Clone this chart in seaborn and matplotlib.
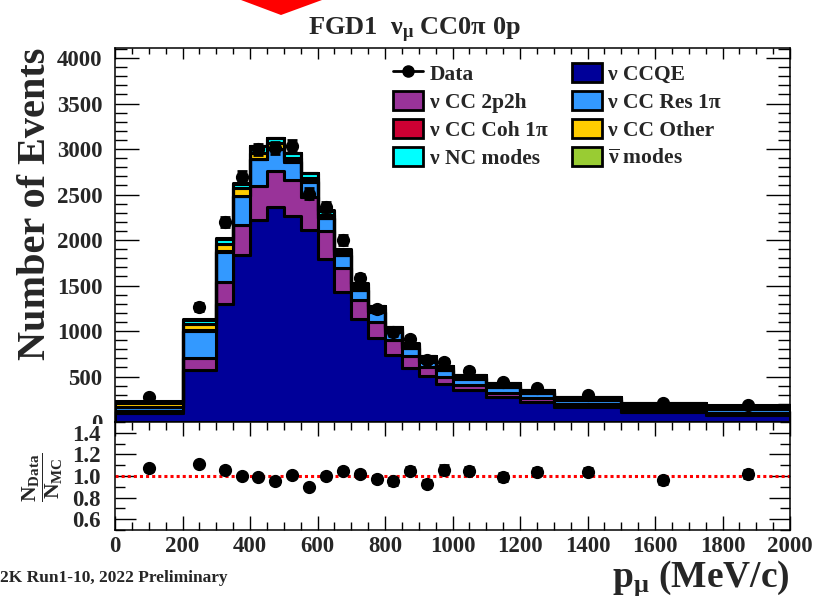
import numpy as np
import pandas as pd
import matplotlib
matplotlib.use("Agg")
import matplotlib.pyplot as plt
import seaborn as sns
from matplotlib.patches import Patch, Polygon, Rectangle
from matplotlib.lines import Line2D
from matplotlib.ticker import MultipleLocator

# ---------------- data ----------------
bin_edges = [0, 200, 300, 350, 400, 450, 500, 550, 600, 650, 700, 750, 800,
             850, 900, 950, 1000, 1100, 1200, 1300, 1500, 1750, 2000]

ccqe    = [100, 571, 1293, 1835, 2220, 2366, 2267, 2110, 1788, 1432, 1132, 920,
           736, 590, 505, 418, 352, 278, 223, 168, 113, 78]
cc2p2h  = [20, 136, 242, 330, 377, 396, 392, 366, 311, 264, 209, 182,
           165, 135, 96, 80, 60, 40, 44, 30, 30, 25]
ccres   = [45, 297, 336, 319, 289, 234, 202, 165, 139, 139, 110, 103,
           92, 84, 62, 73, 65, 66, 55, 44, 36, 40]
cccoh   = [2, 4, 5, 5, 5, 5, 4, 4, 3, 3, 3, 2, 2, 2, 2, 2, 2, 1, 1, 1, 1, 1]
ccother = [40, 69, 80, 79, 61, 69, 36, 37, 30, 25, 35, 30,
           25, 25, 25, 20, 15, 20, 12, 15, 15, 20]
ncmodes = [18, 45, 55, 50, 76, 47, 55, 50, 50, 30, 30, 35,
           25, 25, 30, 20, 20, 20, 15, 15, 15, 15]
antinu  = [5, 6, 6, 6, 5, 5, 5, 5, 5, 4, 4, 3, 3, 3, 3, 3, 3, 3, 3, 3, 3, 4]

data_counts = [270, 1267, 2195, 2696, 2995, 3010, 3035, 2510, 2359, 2000, 1580,
               1240, 985, 915, 680, 660, 560, 440, 370, 295, 210, 188]
data_err = [20, 42, 55, 60, 63, 63, 63, 58, 56, 52, 46, 40, 36, 35, 30, 30,
            28, 25, 22, 20, 17, 16]

ratio = [1.07, 1.11, 1.06, 1.00, 0.99, 0.95, 1.01, 0.90, 1.00, 1.05, 1.02,
         0.97, 0.95, 1.05, 0.93, 1.06, 1.05, 0.99, 1.04, 1.04, 0.96, 1.02]
ratio_err = [0.02, 0.02, 0.02, 0.02, 0.02, 0.02, 0.02, 0.02, 0.025, 0.025,
             0.025, 0.03, 0.03, 0.035, 0.035, 0.04, 0.03, 0.035, 0.035, 0.03,
             0.03, 0.04]

mode_labels = ["ν CCQE", "ν CC 2p2h", "ν CC Res 1π", "ν CC Coh 1π",
               "ν CC Other", "ν NC modes", r"$\overline{ν}$ modes"]
mode_colors = ["#000099", "#993399", "#3399ff", "#cc0033",
               "#ffcc00", "#00ffff", "#99cc33"]

# ---------------- build table ----------------
edges = np.array(bin_edges, dtype=float)
centers = 0.5 * (edges[:-1] + edges[1:])
components = [ccqe, cc2p2h, ccres, cccoh, ccother, ncmodes, antinu]
rows = []
for lab, vals in zip(mode_labels, components):
    for c, v in zip(centers, vals):
        rows.append({"p": float(c), "w": float(v), "mode": lab})
df = pd.DataFrame(rows)
palette = dict(zip(mode_labels, mode_colors))

# ---------------- style ----------------
sns.set_style("ticks")
plt.rcParams["font.family"] = ["Liberation Serif", "DejaVu Serif"]
plt.rcParams["font.weight"] = "bold"
plt.rcParams["mathtext.default"] = "regular"
plt.rcParams["axes.linewidth"] = 1.1

W, H = 815, 596
TICK_FS = 16.5
fig = plt.figure(figsize=(W / 100, H / 100), dpi=100)
ax = fig.add_axes([115 / W, 1 - 422 / H, 675 / W, 374 / H])
axr = fig.add_axes([115 / W, 1 - 530 / H, 675 / W, 108 / H])
axr.set_zorder(2)

# stacked histogram: last hue level is stacked at the bottom
sns.histplot(data=df, x="p", weights="w", hue="mode",
             hue_order=mode_labels[::-1], palette=palette,
             bins=[float(b) for b in bin_edges],
             multiple="stack", element="step", alpha=1, edgecolor="black",
             linewidth=2.2, legend=False, ax=ax)

ax.errorbar(centers, data_counts, yerr=data_err, fmt="o", color="black",
            markersize=8.5, elinewidth=2, capsize=3.5, capthick=2, zorder=5)

ax.set_xlim(0, 2000)
ax.set_ylim(0, 4110)
ax.set_xlabel("")
ax.set_ylabel("Number of Events", fontsize=29, fontweight="bold", loc="top")
ax.yaxis.set_label_coords(-0.091, 1.0)
ax.xaxis.set_major_locator(MultipleLocator(200))
ax.xaxis.set_minor_locator(MultipleLocator(50))
ax.yaxis.set_major_locator(MultipleLocator(500))
ax.yaxis.set_minor_locator(MultipleLocator(100))
ax.tick_params(axis="both", which="both", direction="in", top=True,
               right=True, width=1.0, color="black")
ax.tick_params(axis="y", which="major", length=17, labelsize=TICK_FS, pad=9)
ax.tick_params(axis="y", which="minor", length=8.5)
ax.tick_params(axis="x", which="major", length=8, labelbottom=False)
ax.tick_params(axis="x", which="minor", length=4)
for sp in ax.spines.values():
    sp.set_visible(True)
    sp.set_color("black")

# legend
handles = [Line2D([0], [0], color="black", marker="o", markersize=8, lw=2)]
labels = ["Data"]
for lab, col in zip(mode_labels, mode_colors):
    handles.append(Patch(facecolor=col, edgecolor="black", linewidth=2))
    labels.append(lab)
order = [0, 2, 4, 6, 1, 3, 5, 7]
leg = ax.legend([handles[i] for i in order], [labels[i] for i in order],
                ncol=2, loc="upper left",
                bbox_to_anchor=((393 - 115) / 675, (422 - 63) / 374),
                frameon=False, fontsize=15.5, handlelength=1.4, handleheight=0.95,
                handletextpad=0.3, columnspacing=1.13, labelspacing=0.3,
                borderaxespad=0, borderpad=0)

# ratio panel
axr.axhline(1.0, color="red", ls=(0, (1, 1)), lw=2.2, zorder=1)
axr.errorbar(centers, ratio, yerr=ratio_err, fmt="o", color="black",
             markersize=8.5, elinewidth=2, capsize=3.5, capthick=2, zorder=5)
axr.set_xlim(0, 2000)
axr.set_ylim(0.5, 1.5)
axr.xaxis.set_major_locator(MultipleLocator(200))
axr.xaxis.set_minor_locator(MultipleLocator(50))
axr.set_yticks([0.6, 0.8, 1.0, 1.2, 1.4])
axr.set_yticklabels(["0.6", "0.8", "1.0", "1.2", "1.4"])
axr.yaxis.set_minor_locator(MultipleLocator(0.1))
axr.tick_params(axis="both", which="both", direction="in", top=True,
                right=True, width=1.0, color="black", labelsize=TICK_FS)
axr.tick_params(axis="y", which="major", length=15, pad=10)
axr.tick_params(axis="y", which="minor", length=7)
axr.tick_params(axis="x", which="major", length=10, pad=4)
axr.tick_params(axis="x", which="minor", length=5.5)
axr.set_ylabel(r"$\dfrac{N_{Data}}{N_{MC}}$", fontsize=15.5, fontweight="bold")
axr.yaxis.set_label_coords(-0.074, 0.49)
axr.set_xlabel(r"p$_{μ}$ (MeV/c)", fontsize=27, fontweight="bold", loc="right")
axr.xaxis.set_label_coords(1.0, -0.265)
for sp in axr.spines.values():
    sp.set_visible(True)
    sp.set_color("black")

# mask below the top pad (clips the lower half of the "0" label as in the reference)
fig.patches.append(Rectangle((0, 0), 115 / W, 1 - 424 / H, transform=fig.transFigure,
                             facecolor="white", edgecolor="none", zorder=1))

# title and annotations
fig.text(414 / W, 1 - 35 / H, r"FGD1  ν$_{μ}$ CC0π 0p", fontsize=19,
         fontweight="bold", ha="center", va="baseline")
fig.text(0.0, 1 - 578 / H, "2K Run1-10, 2022 Preliminary", fontsize=12.5,
         fontweight="bold", ha="left", va="center")
fig.patches.append(Polygon([(241 / W, 1.0), (322 / W, 1.0), (281 / W, 1 - 15 / H)],
                           closed=True, transform=fig.transFigure,
                           facecolor="#ff0000", edgecolor="none", zorder=1))

fig.savefig("out.png", dpi=100)
